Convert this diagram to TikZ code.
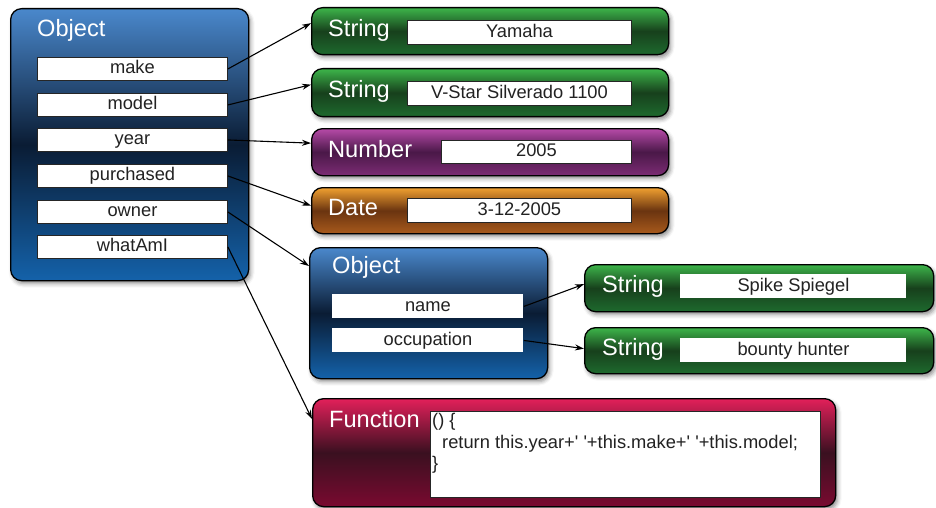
\documentclass[tikz,border=0pt]{standalone}
\usepackage{fontspec}
\setmainfont{Liberation Sans}
\usetikzlibrary{shadows.blur, arrows.meta, calc}
\definecolor{bluetop}{HTML}{4A88CC}
\definecolor{bluemid}{HTML}{0A1C34}
\definecolor{bluebot}{HTML}{1462AA}
\definecolor{greentop}{HTML}{3DB54A}
\definecolor{greenmid}{HTML}{17401C}
\definecolor{greenbot}{HTML}{1E6A2E}
\definecolor{purptop}{HTML}{B64AA8}
\definecolor{purpmid}{HTML}{4A1848}
\definecolor{purpbot}{HTML}{7C2C74}
\definecolor{orantop}{HTML}{F0A030}
\definecolor{oranmid}{HTML}{6A3410}
\definecolor{oranbot}{HTML}{A85A1C}
\definecolor{crimtop}{HTML}{E2205A}
\definecolor{crimmid}{HTML}{3A1020}
\definecolor{crimbot}{HTML}{7A0A30}
\definecolor{txt}{HTML}{222222}
\tikzset{
  panel/.style={draw=black, line width=1.3pt, rounded corners=11pt, anchor=north west, inner sep=0pt,
    blur shadow={shadow xshift=2pt, shadow yshift=-3pt, shadow blur radius=4pt, shadow opacity=45}},
  bluepanel/.style={panel, top color=bluetop, bottom color=bluebot, middle color=bluemid},
  greenpanel/.style={panel, top color=greentop, bottom color=greenbot, middle color=greenmid},
  purppanel/.style={panel, top color=purptop, bottom color=purpbot, middle color=purpmid},
  oranpanel/.style={panel, top color=orantop, bottom color=oranbot, middle color=oranmid},
  crimpanel/.style={panel, top color=crimtop, bottom color=crimbot, middle color=crimmid},
  field/.style={draw=black!85, line width=0.9pt, fill=white, anchor=north west, inner sep=0pt,
    text=txt, font=\fontsize{18.3}{21}\selectfont, text height=13pt, text depth=3.5pt},
  plainfield/.style={field, draw=none},
  title/.style={text=white, anchor=base west, inner sep=0pt, font=\fontsize{23.6}{26}\selectfont},
  arr/.style={-{Stealth[length=9pt,width=6pt]}, line width=1.1pt, black},
}
\begin{document}
\begin{tikzpicture}[x=1pt, y=-1pt]
\useasboundingbox (0,0) rectangle (936,508);

% main object
\node[bluepanel, minimum width=238pt, minimum height=272pt] (obj) at (10,8) {};
\node[title] (objt) at (37,37) {Object};
\node[field, minimum width=190pt, minimum height=23pt] (make) at (37,57) {make};
\node[field, minimum width=190pt, minimum height=23pt] (model) at (37,93) {model};
\node[field, minimum width=190pt, minimum height=23pt] (year) at (37,128) {year};
\node[field, minimum width=190pt, minimum height=23pt] (purch) at (37,164) {purchased};
\node[field, minimum width=190pt, minimum height=23pt] (owner) at (37,200) {owner};
\node[field, minimum width=190pt, minimum height=23pt] (what) at (37,235) {whatAmI};

% right panels
\node[greenpanel, minimum width=357pt, minimum height=47pt] (s1) at (311,7) {};
\node[title] (s1t) at (328,37) {String};
\node[field, minimum width=224pt, minimum height=24pt] (s1v) at (407,20) {Yamaha};

\node[greenpanel, minimum width=357pt, minimum height=48pt] (s2) at (311,68) {};
\node[title] (s2t) at (328,98) {String};
\node[field, minimum width=224pt, minimum height=24pt] (s2v) at (407,81) {V-Star Silverado 1100};

\node[purppanel, minimum width=357pt, minimum height=47pt] (num) at (311,128) {};
\node[title] (numt) at (328,157) {Number};
\node[field, minimum width=190pt, minimum height=23pt] (numv) at (441,140) {2005};

\node[oranpanel, minimum width=357pt, minimum height=46pt] (date) at (311,187) {};
\node[title] (datet) at (328,215) {Date};
\node[field, minimum width=224pt, minimum height=24pt] (datev) at (407,198) {3-12-2005};

% owner object
\node[bluepanel, minimum width=238pt, minimum height=131pt] (obj2) at (309,247) {};
\node[title] (obj2t) at (332,273) {Object};
\node[plainfield, minimum width=191pt, minimum height=24pt] (name) at (332,294) {name};
\node[plainfield, minimum width=191pt, minimum height=24pt] (occ) at (332,328) {occupation};

\node[greenpanel, minimum width=349pt, minimum height=47pt] (s3) at (584,264) {};
\node[title] (s3t) at (602,292) {String};
\node[plainfield, minimum width=226pt, minimum height=24pt] (s3v) at (680,274) {Spike Spiegel};

\node[greenpanel, minimum width=349pt, minimum height=46pt] (s4) at (584,327) {};
\node[title] (s4t) at (602,355) {String};
\node[plainfield, minimum width=226pt, minimum height=24pt] (s4v) at (680,338) {bounty hunter};

% function
\node[crimpanel, minimum width=523pt, minimum height=108pt] (func) at (312,398) {};
\node[title] (funct) at (329,427) {Function};
\node[field, minimum width=390pt, minimum height=86pt] (code) at (430,411) {};
\node[anchor=north west, inner sep=0pt, text=txt, align=left,
  font=\fontsize{18.3}{21.7}\selectfont] (codet) at ([xshift=2pt,yshift=-2pt]code.north west)
  {() \{\\\hspace*{10pt}return this.year+\textquotesingle{} \textquotesingle+this.make+\textquotesingle{} \textquotesingle+this.model;\\\}};

% connectors
\draw[arr] (make.east) -- ([yshift=8pt]s1.west);
\draw[arr] (model.east) -- ([yshift=8pt]s2.west);
\draw[arr] (year.east) -- ([yshift=9pt]num.west);
\draw[arr] (purch.east) -- ([yshift=5pt]date.west);
\draw[arr] (owner.east) -- ([yshift=-19pt]obj2.north west);
\draw[arr] (what.east) -- ([yshift=-21pt]func.north west);
\draw[arr] (name.east) -- ([yshift=4pt]s3.west);
\draw[arr] (occ.east) -- ([yshift=2pt]s4.west);
\end{tikzpicture}
\end{document}
